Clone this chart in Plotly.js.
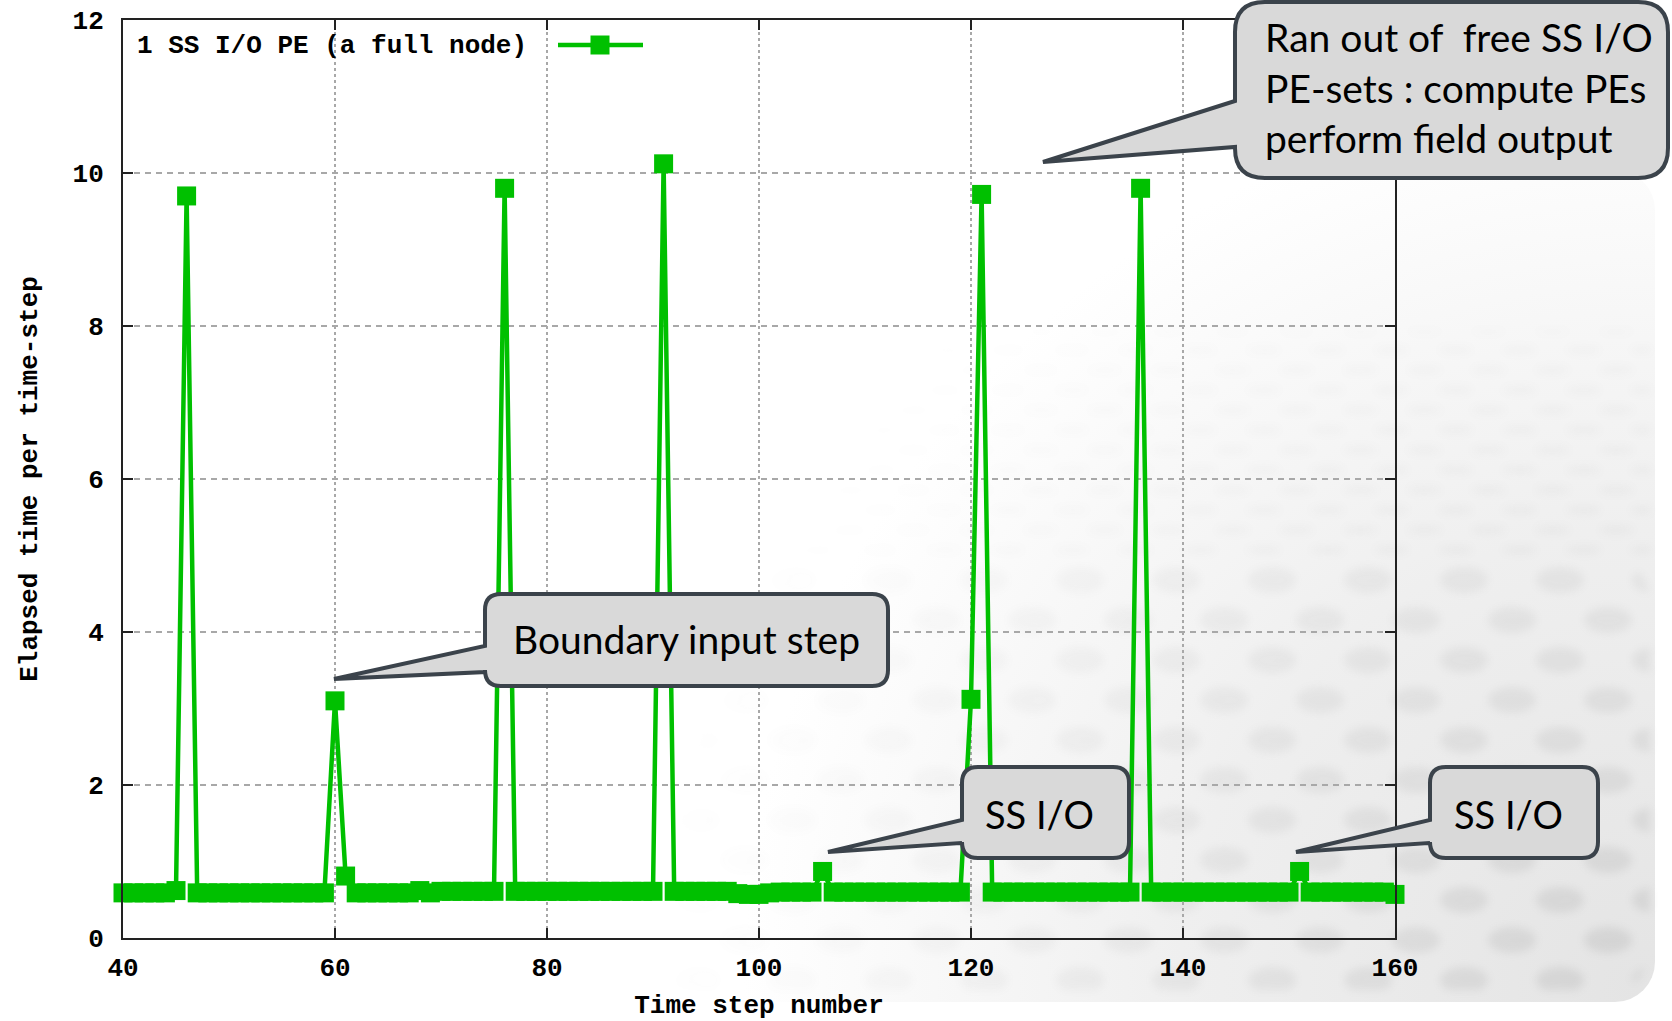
<!DOCTYPE html>
<html>
<head>
<meta charset="utf-8">
<script src="https://cdn.plot.ly/plotly-3.0.1.min.js"></script>
<style>html,body{margin:0;padding:0;background:#fff;}#chart{width:1672px;height:1021px;}</style>
</head>
<body>
<div id="chart"></div>
<script>
// ---- data ----
const steps = [40,41,42,43,44,45,46,47,48,49,50,51,52,53,54,55,56,57,58,59,
  60,61,62,63,64,65,66,67,68,69,70,71,72,73,74,75,76,77,78,79,
  80,81,82,83,84,85,86,87,88,89,90,91,92,93,94,95,96,97,98,99,
  100,101,102,103,104,105,106,107,108,109,110,111,112,113,114,115,116,117,118,119,
  120,121,122,123,124,125,126,127,128,129,130,131,132,133,134,135,136,137,138,139,
  140,141,142,143,144,145,146,147,148,149,150,151,152,153,154,155,156,157,158,159,160];
const elapsed = [0.59,0.59,0.59,0.59,0.59,0.62,9.70,0.59,0.59,0.59,0.59,0.59,0.59,0.59,0.59,0.59,0.59,0.59,0.59,0.59,
  3.10,0.81,0.59,0.59,0.59,0.59,0.59,0.59,0.62,0.59,0.61,0.61,0.61,0.61,0.61,0.61,9.80,0.61,0.61,0.61,
  0.61,0.61,0.61,0.61,0.61,0.61,0.61,0.61,0.61,0.61,0.61,10.12,0.61,0.61,0.61,0.61,0.61,0.61,0.58,0.57,
  0.57,0.59,0.60,0.60,0.60,0.60,0.87,0.60,0.60,0.60,0.60,0.60,0.60,0.60,0.60,0.60,0.60,0.60,0.60,0.60,
  3.12,9.72,0.60,0.60,0.60,0.60,0.60,0.60,0.60,0.60,0.60,0.60,0.60,0.60,0.60,0.60,9.80,0.60,0.60,0.60,
  0.60,0.60,0.60,0.60,0.60,0.60,0.60,0.60,0.60,0.60,0.60,0.87,0.60,0.60,0.60,0.60,0.60,0.60,0.60,0.60,0.57];
const seriesName = '1 SS I/O PE (a full node)';
const xTicks = [40,60,80,100,120,140,160];
const yTicks = [0,2,4,6,8,10,12];
const xTitle = 'Time step number';
const yTitle = 'Elapsed time per time-step';
const calloutTexts = ['Boundary input step', 'SS I/O', 'SS I/O',
  'Ran out of \u00a0free SS I/O<br>PE-sets : compute PEs<br>perform field output'];

// ---- geometry helpers (figure pixels -> paper) ----
const L = 123, T = 20, W = 1272, H = 918;
const px = v => (v - L) / W;
const py = v => (T + H - v) / H;
function P(x, y) { return px(x).toFixed(5) + ',' + py(y).toFixed(5); }
function callout(x0, y0, x1, y1, r, yA, yB, tx, ty) {
  return 'M' + P(x0 + r, y0) + ' L' + P(x1 - r, y0) + ' Q' + P(x1, y0) + ' ' + P(x1, y0 + r) +
    ' L' + P(x1, y1 - r) + ' Q' + P(x1, y1) + ' ' + P(x1 - r, y1) +
    ' L' + P(x0 + r, y1) + ' Q' + P(x0, y1) + ' ' + P(x0, y1 - r) +
    ' L' + P(x0, yB) + ' L' + P(tx, ty) + ' L' + P(x0, yA) +
    ' L' + P(x0, y0 + r) + ' Q' + P(x0, y0) + ' ' + P(x0 + r, y0) + ' Z';
}
const green = '#00c000';
const mono = 'Liberation Mono, DejaVu Sans Mono, monospace';
const sans = 'Lato, Open Sans, sans-serif';
const monoFont = {family: mono, size: 26, color: '#000', weight: 'bold'};
const calloutStyle = {type: 'path', xref: 'paper', yref: 'paper', layer: 'above',
  fillcolor: '#d9d9d9', line: {color: '#3b434b', width: 4}};

// background decoration (svg data uri)
const bgSvg = '<svg xmlns="http://www.w3.org/2000/svg" width="1672" height="1021" viewBox="0 0 1672 1021">' +
  '<defs>' +
  '<radialGradient id="g" gradientUnits="userSpaceOnUse" cx="1640" cy="990" r="1150">' +
  '<stop offset="0" stop-color="#e4e4e4"/><stop offset="0.4" stop-color="#efefef"/><stop offset="0.78" stop-color="#ffffff"/></radialGradient>' +
  '<radialGradient id="gm" gradientUnits="userSpaceOnUse" cx="1640" cy="1000" r="1000">' +
  '<stop offset="0" stop-color="#fff" stop-opacity="1"/><stop offset="1" stop-color="#fff" stop-opacity="0"/></radialGradient>' +
  '<mask id="m"><rect width="1672" height="1021" fill="url(#gm)"/></mask>' +
  '<pattern id="p" patternUnits="userSpaceOnUse" width="96" height="80">' +
  '<ellipse cx="24" cy="20" rx="24" ry="13" fill="#7a7a7a"/><ellipse cx="72" cy="60" rx="24" ry="13" fill="#7a7a7a"/></pattern>' +
  '<pattern id="q" patternUnits="userSpaceOnUse" width="64" height="40">' +
  '<ellipse cx="16" cy="10" rx="18" ry="4" fill="#7a7a7a"/><ellipse cx="48" cy="30" rx="18" ry="4" fill="#7a7a7a"/></pattern>' +
  '<filter id="b"><feGaussianBlur stdDeviation="4"/></filter>' +
  '</defs>' +
  '<rect x="540" y="170" width="1115" height="832" rx="40" fill="url(#g)"/>' +
  '<g mask="url(#m)" opacity="0.16"><rect x="560" y="560" width="1090" height="430" rx="40" fill="url(#p)" filter="url(#b)"/></g>' +
  '<g mask="url(#m)" opacity="0.12"><rect x="700" y="330" width="950" height="230" fill="url(#q)" filter="url(#b)"/></g>' +
  '</svg>';

const trace = {
  x: steps, y: elapsed, name: seriesName, type: 'scatter', mode: 'lines+markers',
  line: {color: green, width: 4.5},
  marker: {symbol: 'square', size: 19, color: green, line: {width: 0}},
  cliponaxis: false, showlegend: false, hoverinfo: 'x+y'
};

const axisCommon = {
  ticks: 'inside', ticklen: 10, tickwidth: 2, tickcolor: '#222',
  mirror: 'ticks', showline: true, linecolor: '#222', linewidth: 2,
  showgrid: true, gridcolor: '#a8a8a8', gridwidth: 1.5, zeroline: false,
  tickfont: monoFont, fixedrange: true
};

const layout = {
  width: 1672, height: 1021,
  margin: {l: L, r: 1672 - L - W, t: T, b: 1021 - T - H, pad: 0},
  paper_bgcolor: '#ffffff', plot_bgcolor: 'rgba(0,0,0,0)',
  showlegend: false,
  xaxis: Object.assign({}, axisCommon, {
    range: [40, 160], tickvals: xTicks, ticktext: xTicks.map(String),
    griddash: '3px,3px', ticklabelstandoff: 5,
    title: {text: xTitle, font: monoFont, standoff: 14}
  }),
  yaxis: Object.assign({}, axisCommon, {
    range: [0, 12], tickvals: yTicks, ticktext: yTicks.map(String),
    griddash: '6px,5px', ticklabelstandoff: 12,
    title: {text: yTitle, font: monoFont, standoff: 27}
  }),
  images: [{
    source: 'data:image/svg+xml;charset=utf-8,' + encodeURIComponent(bgSvg),
    xref: 'paper', yref: 'paper', x: px(0), y: py(0), sizex: 1672 / W, sizey: 1021 / H,
    xanchor: 'left', yanchor: 'top', sizing: 'stretch', layer: 'below'
  }],
  shapes: [
    // legend sample
    {type: 'line', xref: 'paper', yref: 'paper', x0: px(558), x1: px(643), y0: py(45), y1: py(45),
      line: {color: green, width: 4.5}, layer: 'above'},
    {type: 'rect', xref: 'paper', yref: 'paper', x0: px(590.5), x1: px(609.5), y0: py(35.5), y1: py(54.5),
      fillcolor: green, line: {width: 0}, layer: 'above'},
    // callouts
    Object.assign({}, calloutStyle, {path: callout(485, 594, 888, 686, 16, 646, 672, 334, 679)}),
    Object.assign({}, calloutStyle, {path: callout(962, 767, 1129, 858, 16, 820, 843, 828, 852)}),
    Object.assign({}, calloutStyle, {path: callout(1430, 767, 1598, 858, 16, 820, 843, 1296, 852)}),
    Object.assign({}, calloutStyle, {path: callout(1235, 2, 1668, 178, 30, 101, 147, 1043, 162)})
  ],
  annotations: [
    {xref: 'paper', yref: 'paper', x: px(135), y: py(46), xanchor: 'left', yanchor: 'middle',
      text: seriesName, showarrow: false, font: monoFont},
    {xref: 'paper', yref: 'paper', x: px(686), y: py(639), xanchor: 'center', yanchor: 'middle',
      text: calloutTexts[0], showarrow: false, font: {family: sans, size: 39, color: '#000'}},
    {xref: 'paper', yref: 'paper', x: px(1039), y: py(814), xanchor: 'center', yanchor: 'middle',
      text: calloutTexts[1], showarrow: false, font: {family: sans, size: 38, color: '#000'}},
    {xref: 'paper', yref: 'paper', x: px(1508), y: py(814), xanchor: 'center', yanchor: 'middle',
      text: calloutTexts[2], showarrow: false, font: {family: sans, size: 38, color: '#000'}},
    {xref: 'paper', yref: 'paper', x: px(1263), y: py(87), xanchor: 'left', yanchor: 'middle', align: 'left',
      text: calloutTexts[3], showarrow: false, font: {family: sans, size: 39, color: '#000'}}
  ]
};

Plotly.newPlot('chart', [trace], layout, {displayModeBar: false, staticPlot: true});
</script>
</body>
</html>
